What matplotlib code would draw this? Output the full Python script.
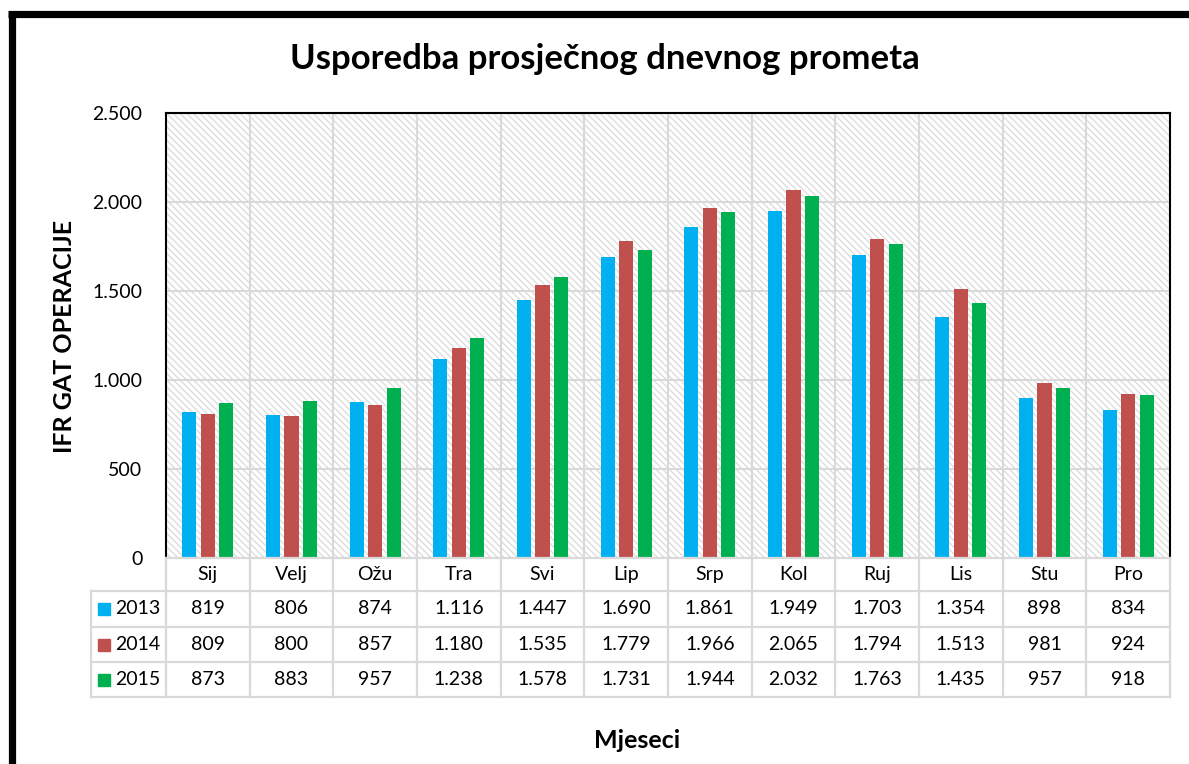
import numpy as np
import matplotlib
matplotlib.use("Agg")
import matplotlib.pyplot as plt
from matplotlib.patches import Rectangle
from matplotlib.lines import Line2D
from matplotlib.ticker import FuncFormatter, MultipleLocator

plt.rcParams['font.family'] = ['Lato', 'DejaVu Sans']
plt.rcParams['hatch.linewidth'] = 0.9

months = ['Sij', 'Velj', 'Ožu', 'Tra', 'Svi', 'Lip', 'Srp', 'Kol', 'Ruj', 'Lis', 'Stu', 'Pro']
years = ['2013', '2014', '2015']
ops_2013 = [819, 806, 874, 1116, 1447, 1690, 1861, 1949, 1703, 1354, 898, 834]
ops_2014 = [809, 800, 857, 1180, 1535, 1779, 1966, 2065, 1794, 1513, 981, 924]
ops_2015 = [873, 883, 957, 1238, 1578, 1731, 1944, 2032, 1763, 1435, 957, 918]
colors = ['#00B0F0', '#C0504D', '#00B050']

series = [ops_2013, ops_2014, ops_2015]


def fmt(v):
    return f"{int(v):,}".replace(',', '.')


W, H = 1189, 764
fig = plt.figure(figsize=(W / 100, H / 100), dpi=100)

# main plot area
ax = fig.add_axes([166 / W, 1 - 558 / H, (1170 - 166) / W, (558 - 113) / H])
ax.set_xlim(-0.5, 11.5)
ax.set_ylim(0, 2500)

# hatched background
ax.add_patch(Rectangle((0, 0), 1, 1, transform=ax.transAxes, facecolor='white',
                       edgecolor='#DADADA', linewidth=0, hatch='\\' * 5, zorder=0))

x = np.arange(len(months))
bw = 0.168
offs = [-0.222, 0, 0.222]
for vals, c, o in zip(series, colors, offs):
    ax.bar(x + o, vals, width=bw, color=c, zorder=3)

ax.yaxis.set_major_locator(MultipleLocator(500))
ax.yaxis.set_major_formatter(FuncFormatter(lambda v, p: fmt(v)))
ax.set_xticks(np.arange(-0.5, 12, 1), minor=True)
ax.set_xticks([])
ax.grid(axis='y', color='#D9D9D9', linewidth=1.5, zorder=1)
ax.grid(axis='x', which='minor', color='#D9D9D9', linewidth=1.5, zorder=1)
ax.set_axisbelow(True)
ax.tick_params(axis='y', length=0, pad=17, labelsize=14)
ax.tick_params(axis='x', which='both', length=0)
for s in ['left', 'top', 'right']:
    ax.spines[s].set_linewidth(1.5)
    ax.spines[s].set_color('black')
ax.spines['bottom'].set_visible(False)

# data table underneath
tab = fig.add_axes([91 / W, 1 - 697 / H, (1170 - 91) / W, (697 - 558) / H])
xl = -0.5 - 75 / 83.67
tab.set_xlim(xl, 11.5)
tab.set_ylim(139, 0)
tab.axis('off')
grid_c = '#D9D9D9'
rows = [0, 33, 69, 104, 139]
tab.add_line(Line2D([-0.5, 11.5], [0, 0], color=grid_c, lw=1.6, clip_on=False))
for yy in rows[1:]:
    tab.add_line(Line2D([xl, 11.5], [yy, yy], color=grid_c, lw=1.6, clip_on=False))
for k in range(13):
    tab.add_line(Line2D([k - 0.5, k - 0.5], [0, 139], color=grid_c, lw=1.6, clip_on=False))
tab.add_line(Line2D([xl, xl], [33, 139], color=grid_c, lw=1.6, clip_on=False))

for i, m in enumerate(months):
    tab.text(i, (rows[0] + rows[1]) / 2, m, ha='center', va='center', fontsize=14)
for r, (yr, vals, c) in enumerate(zip(years, series, colors)):
    yc = (rows[r + 1] + rows[r + 2]) / 2
    tab.plot(xl + 0.155, yc, marker='s', markersize=8.5, color=c, clip_on=False)
    tab.text(xl + 0.285, yc, yr, ha='left', va='center', fontsize=14)
    for i, v in enumerate(vals):
        tab.text(i, yc, fmt(v), ha='center', va='center', fontsize=14)

# titles
fig.text(605 / W, 1 - 59 / H, 'Usporedba prosječnog dnevnog prometa', ha='center', va='center',
         fontsize=25, fontweight='bold')
fig.text(65 / W, 1 - 336 / H, 'IFR GAT OPERACIJE', ha='center', va='center', rotation=90,
         fontsize=18, fontweight='bold')
fig.text(637 / W, 1 - 740 / H, 'Mjeseci', ha='center', va='center', fontsize=18, fontweight='bold')

# thick frame along top and left edge
fig.add_artist(Line2D([11.5 / W, 11.5 / W], [0, 1 - 13.5 / H], color='black', lw=5.2,
                      transform=fig.transFigure, solid_capstyle='butt'))
fig.add_artist(Line2D([8 / W, 1], [1 - 13.5 / H, 1 - 13.5 / H], color='black', lw=5.2,
                      transform=fig.transFigure, solid_capstyle='butt'))

fig.savefig('out.png', dpi=100)
